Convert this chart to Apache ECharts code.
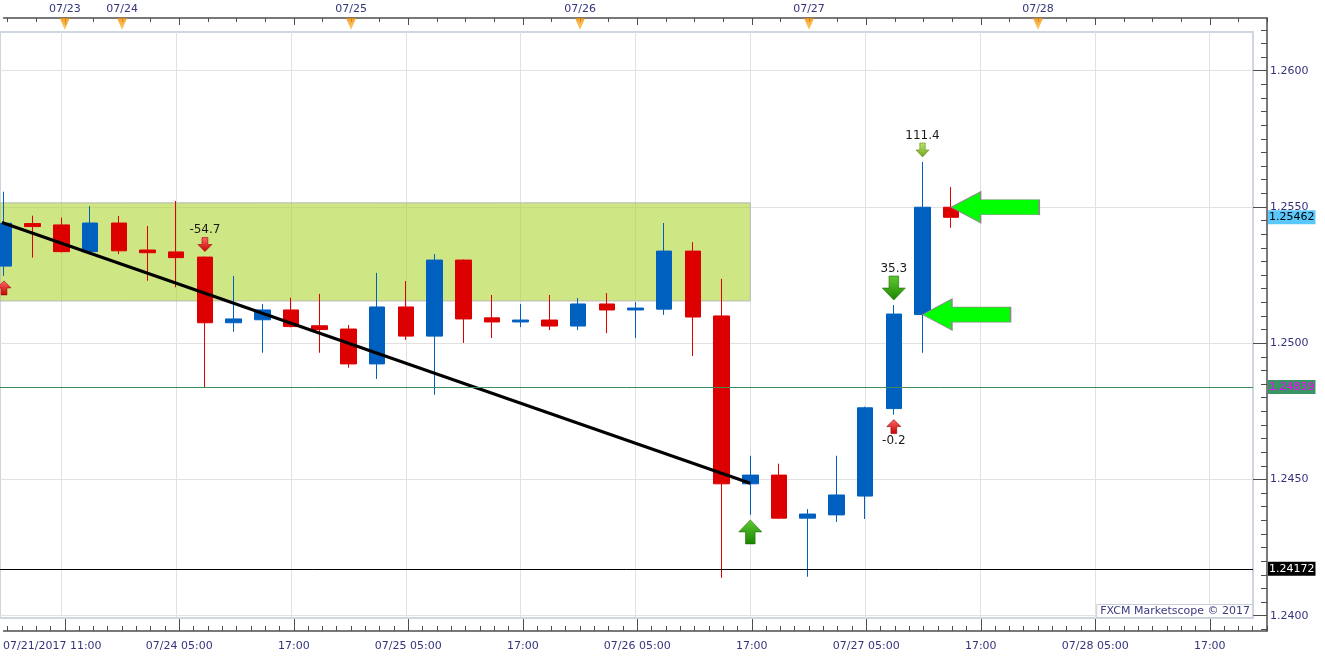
<!DOCTYPE html>
<html>
<head>
<meta charset="utf-8">
<script src="https://cdn.jsdelivr.net/npm/echarts@6/dist/echarts.min.js"></script>
<style>
html,body{margin:0;padding:0;background:#fff;}
#c{width:1325px;height:657px;}
</style>
</head>
<body>
<div id="c"></div>
<script>
// ---------------- data ----------------
const candleIdx = [0,1,2,3,4,5,6,7,8,9,10,11,12,13,14,15,16,17,18,19,20,21,22,23,24,25,26,27,28,29,30,31,32,33];
const openP  = [1.25283,1.25439,1.25434,1.25336,1.25441,1.25342,1.25335,1.25316,1.25075,1.25086,1.25122,1.25064,1.25052,1.24924,1.25133,1.25026,1.25305,1.25093,1.25078,1.25085,1.25063,1.25144,1.25122,1.25125,1.25338,1.25100,1.24484,1.24516,1.24358,1.24370,1.24439,1.24760,1.25105,1.25499];
const closeP = [1.25440,1.25428,1.25336,1.25441,1.25339,1.25332,1.25314,1.25075,1.25089,1.25122,1.25061,1.25050,1.24924,1.25133,1.25026,1.25305,1.25089,1.25078,1.25085,1.25063,1.25144,1.25122,1.25129,1.25338,1.25096,1.24484,1.24516,1.24358,1.24373,1.24443,1.24763,1.25107,1.25499,1.25462];
const lowP   = [1.25247,1.25314,1.25333,1.25333,1.25327,1.25229,1.25205,1.24839,1.25042,1.24965,1.25058,1.24965,1.24910,1.24869,1.25012,1.24811,1.25001,1.25019,1.25059,1.25048,1.25048,1.25037,1.25019,1.25104,1.24953,1.24139,1.24370,1.24355,1.24143,1.24344,1.24355,1.24738,1.24965,1.25424];
const highP  = [1.25556,1.25468,1.25461,1.25503,1.25467,1.25430,1.25522,1.25318,1.25247,1.25144,1.25167,1.25181,1.25067,1.25258,1.25228,1.25327,1.25307,1.25177,1.25144,1.25177,1.25166,1.25184,1.25151,1.25441,1.25371,1.25236,1.24587,1.24558,1.24391,1.24587,1.24767,1.25140,1.25665,1.25573];

const priceTicks = [1.2400,1.2450,1.2500,1.2550,1.2600];
const timeTickIdx = [2,6,10,14,18,22,26,30,34,38,42];
const timeTickLabels = ['07/21/2017 11:00','07/24 05:00','17:00','07/25 05:00','17:00','07/26 05:00','17:00','07/27 05:00','17:00','07/28 05:00','17:00'];
const dateMarkIdx = [2,4,12,20,28,36];
const dateMarkLabels = ['07/23','07/24','07/25','07/26','07/27','07/28'];

const priceLines = [1.25462, 1.24839, 1.24172];

const trendIdx = [-0.07, 26];
const trendPrice = [1.25443, 1.24486];

const zoneEndIdx = 26;
const zonePrice = [1.25515, 1.25155];

const signalIdx  = [0, 7, 26, 31, 31, 32];
const signalSide = ['below','above','below','above','below','above'];
const signalText = ['', '-54.7', '', '35.3', '-0.2', '111.4'];
const signalKind = ['red','red','green','green','red','lime'];

const pointerIdx = [32, 33];

// ---------------- layout ----------------
const W = 1325, H = 657;
const PLOT = {l: -2, r: 1253, t: 32, b: 618};
const FRAME = {r: 1267, t: 18, b: 631};
const X_C0 = 2, X_STEP = 28.75;
const Y_REF = 70.7, Y_REF_V = 1.26, Y_PPU = 27250;
const xv = px => (px - X_C0) / X_STEP;
const yv = py => Y_REF_V - (py - Y_REF) / Y_PPU;

const FONT = 'DejaVu Sans';
const AXIS_TXT = '#34347d';
const AXIS_LINE = {show: true, onZero: false, lineStyle: {color: '#4d4d4d', width: 1.5}};
const GRIDC = '#e1e1e1';

const minorPrice = [];
for (let k = 0; k <= 45; k++) minorPrice.push(Math.round((1.2395 + k * 0.0005) * 10000) / 10000);
const halfIdx = [];
for (let k = 0; k <= 88; k++) halfIdx.push(k / 2);
const allIdx = [];
for (let k = 0; k <= 44; k++) allIdx.push(k);

const candleData = candleIdx.map((i, k) => [i, openP[k], closeP[k], lowP[k], highP[k]]);

const ARROW_UP = 'path://M0,12 L12,0 L24,12 L17,12 L17,24 L7,24 L7,12 Z';
const ARROW_DOWN = 'path://M7,0 L17,0 L17,12 L24,12 L12,24 L0,12 L7,12 Z';
const ARROW_LEFT = 'path://M0,15.5 L29,0 L29,8 L87,8 L87,23 L29,23 L29,31 Z';
const grad = (a, b) => ({type: 'linear', x: 0, y: 0, x2: 0, y2: 1, colorStops: [{offset: 0, color: a}, {offset: 1, color: b}]});
const KIND = {
  red:   {size: [14, 14], style: {color: grad('#ff6b6b', '#c40000'), borderColor: '#a00000', borderWidth: 0.6}},
  green: {size: [23, 24], style: {color: grad('#5fc932', '#1c8500'), borderColor: '#1a6a00', borderWidth: 0.6}},
  lime:  {size: [13, 14], style: {color: grad('#bfe36a', '#6ea51e'), borderColor: '#5d8c1a', borderWidth: 0.6}}
};
const GAP = 5;

const signalPoints = signalIdx.map((i, k) => {
  const kind = KIND[signalKind[k]];
  const above = signalSide[k] === 'above';
  const h = kind.size[1];
  return {
    coord: [i, above ? highP[i] : lowP[i]],
    symbol: above ? ARROW_DOWN : ARROW_UP,
    symbolSize: kind.size,
    symbolOffset: [0, above ? -(GAP + h / 2) : (GAP + h / 2)],
    itemStyle: kind.style,
    label: {show: signalText[k] !== '', formatter: signalText[k], position: above ? 'top' : 'bottom', distance: 1,
            color: '#1a1a1a', fontSize: 12, fontFamily: FONT}
  };
});
const pointerPoints = pointerIdx.map(i => ({
  coord: [i, openP[i]],
  symbol: ARROW_LEFT,
  symbolSize: [88, 31],
  symbolOffset: ['50%', 0],
  itemStyle: {color: '#00ff00', borderColor: '#8a8a8a', borderWidth: 1},
  label: {show: false}
}));

const lineStyles = [
  {line: {color: 'rgba(0,0,0,0)', width: 1}, bg: '#5ac8fa', fg: '#000000'},
  {line: {color: '#3c8c60', width: 1}, bg: '#3a9566', fg: '#ff00ff'},
  {line: {color: '#000000', width: 1}, bg: '#000000', fg: '#ffffff'}
];
const priceLineData = priceLines.map((p, k) => ({
  yAxis: p,
  lineStyle: Object.assign({type: 'solid'}, lineStyles[k].line),
  label: {show: true, position: 'end', distance: 15, formatter: p.toFixed(5),
          backgroundColor: lineStyles[k].bg, color: lineStyles[k].fg,
          padding: [2, 1, 1, 1], fontSize: 11, fontFamily: FONT}
}));

const option = {
  animation: false,
  backgroundColor: '#ffffff',
  title: {
    text: 'FXCM Marketscope © 2017',
    right: W - PLOT.r, bottom: H - PLOT.b,
    backgroundColor: '#ffffff', borderColor: '#c8ced8', borderWidth: 1,
    padding: [2, 3, 1, 4],
    textStyle: {fontSize: 11, fontWeight: 'normal', color: '#3a3a80', fontFamily: FONT}
  },
  grid: [
    {left: PLOT.l, right: W - PLOT.r, top: PLOT.t, bottom: H - PLOT.b, show: true,
     backgroundColor: 'rgba(0,0,0,0)', borderColor: '#cfd6e1', borderWidth: 2},
    {left: PLOT.l, right: W - FRAME.r, top: FRAME.t, bottom: H - FRAME.b, show: false}
  ],
  xAxis: [
    {type: 'value', gridIndex: 0, min: xv(PLOT.l), max: xv(PLOT.r),
     axisLine: {show: false, onZero: false}, axisLabel: {show: false},
     axisTick: {show: false, customValues: timeTickIdx},
     splitLine: {show: true, lineStyle: {color: GRIDC, width: 1}}},
    {type: 'value', gridIndex: 1, position: 'bottom', min: xv(PLOT.l), max: xv(FRAME.r),
     axisLine: AXIS_LINE, splitLine: {show: false},
     axisTick: {show: true, inside: true, length: 12, customValues: timeTickIdx, lineStyle: {color: '#4d4d4d', width: 1}},
     axisLabel: {show: true, customValues: timeTickIdx, margin: 10, color: AXIS_TXT, fontSize: 11, fontFamily: FONT,
       formatter: v => {
         const k = timeTickIdx.indexOf(Math.round(v));
         if (k < 0) return '';
         return k === 0 ? '{f|' + timeTickLabels[k] + '}' : timeTickLabels[k];
       },
       rich: {f: {padding: [0, 25, 0, 0], color: AXIS_TXT, fontSize: 11, fontFamily: FONT}}}},
    {type: 'value', gridIndex: 1, position: 'bottom', min: xv(PLOT.l), max: xv(FRAME.r),
     axisLine: {show: false, onZero: false}, splitLine: {show: false}, axisLabel: {show: false},
     axisTick: {show: true, inside: true, length: 5, customValues: halfIdx, lineStyle: {color: '#4d4d4d', width: 1}}},
    {type: 'value', gridIndex: 1, position: 'top', min: xv(PLOT.l), max: xv(FRAME.r),
     axisLine: AXIS_LINE, splitLine: {show: false},
     axisTick: {show: true, inside: true, length: 7, customValues: timeTickIdx, lineStyle: {color: '#4d4d4d', width: 1}},
     axisLabel: {show: true, customValues: dateMarkIdx, margin: 3, color: AXIS_TXT, fontSize: 11, fontFamily: FONT,
       formatter: v => { const k = dateMarkIdx.indexOf(Math.round(v)); return k < 0 ? '' : dateMarkLabels[k]; }}},
    {type: 'value', gridIndex: 1, position: 'top', min: xv(PLOT.l), max: xv(FRAME.r),
     axisLine: {show: false, onZero: false}, splitLine: {show: false}, axisLabel: {show: false},
     axisTick: {show: true, inside: true, length: 4, customValues: allIdx, lineStyle: {color: '#4d4d4d', width: 1}}}
  ],
  yAxis: [
    {type: 'value', gridIndex: 0, position: 'right', min: yv(PLOT.b), max: yv(PLOT.t), scale: true,
     axisLine: {show: false, onZero: false}, axisLabel: {show: false},
     axisTick: {show: false, customValues: priceTicks},
     splitLine: {show: true, lineStyle: {color: GRIDC, width: 1}}},
    {type: 'value', gridIndex: 1, position: 'right', min: yv(FRAME.b), max: yv(FRAME.t), scale: true,
     axisLine: AXIS_LINE, splitLine: {show: false},
     axisTick: {show: true, inside: true, length: 14, customValues: priceTicks, lineStyle: {color: '#4d4d4d', width: 1}},
     axisLabel: {show: true, customValues: priceTicks, margin: 3, color: AXIS_TXT, fontSize: 11, fontFamily: FONT,
       formatter: v => v.toFixed(4)}},
    {type: 'value', gridIndex: 1, position: 'right', min: yv(FRAME.b), max: yv(FRAME.t), scale: true,
     axisLine: {show: false, onZero: false}, splitLine: {show: false}, axisLabel: {show: false},
     axisTick: {show: true, inside: true, length: 6, customValues: minorPrice, lineStyle: {color: '#4d4d4d', width: 1}}}
  ],
  series: [
    {
      type: 'line', xAxisIndex: 0, yAxisIndex: 0, z: 1, data: [], silent: true,
      markArea: {
        silent: true,
        itemStyle: {color: 'rgba(175,213,50,0.6)', borderColor: '#b9b9b9', borderWidth: 1},
        data: [[{xAxis: xv(PLOT.l), yAxis: zonePrice[0]}, {xAxis: zoneEndIdx, yAxis: zonePrice[1]}]]
      }
    },
    {
      type: 'candlestick', xAxisIndex: 0, yAxisIndex: 0, z: 2,
      barWidth: 16,
      encode: {x: 0, y: [1, 2, 3, 4]},
      data: candleData,
      itemStyle: {color: '#0060c0', color0: '#dd0000', borderColor: '#0060c0', borderColor0: '#dd0000', borderWidth: 1},
      markLine: {silent: true, precision: 5, symbol: ['none', 'none'], data: priceLineData},
      markPoint: {silent: true, precision: 5, data: signalPoints.concat(pointerPoints)}
    },
    {
      type: 'line', xAxisIndex: 0, yAxisIndex: 0, z: 3, silent: true,
      showSymbol: false, symbol: 'none',
      lineStyle: {color: '#000000', width: 3},
      data: trendIdx.map((x, k) => [x, trendPrice[k]])
    },
    {
      type: 'scatter', xAxisIndex: 3, yAxisIndex: 1, z: 4, silent: true, clip: false,
      symbol: 'triangle', symbolRotate: 180, symbolSize: [10, 12], symbolOffset: [0, 6],
      itemStyle: {color: grad('#ffc04a', '#f08c00')},
      data: dateMarkIdx.map(i => [i, yv(FRAME.t)])
    }
  ]
};

const chart = echarts.init(document.getElementById('c'));
chart.setOption(option);
</script>
</body>
</html>
